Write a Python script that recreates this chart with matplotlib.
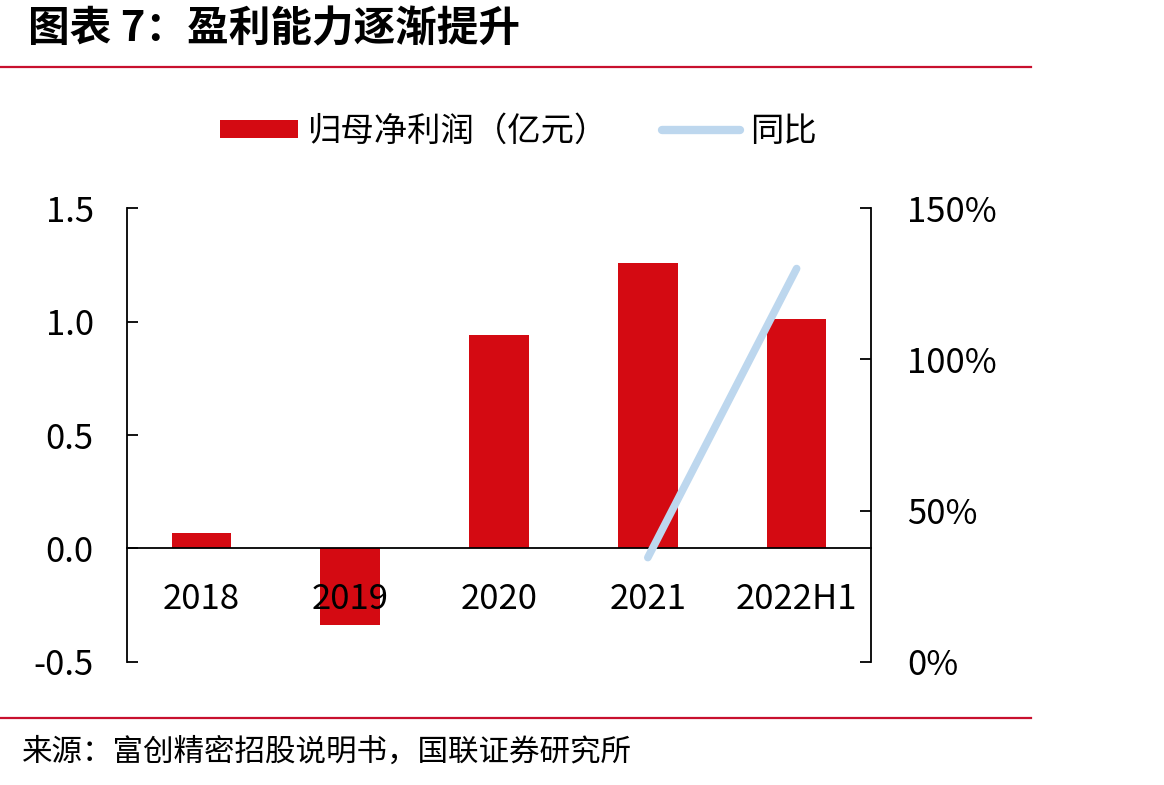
import numpy as np
import matplotlib.pyplot as plt
from matplotlib.patches import Patch
from matplotlib.lines import Line2D
from matplotlib.ticker import FuncFormatter

plt.rcParams['font.family'] = ['Noto Sans CJK SC', 'DejaVu Sans']

# data
years = ['2018', '2019', '2020', '2021', '2022H1']
profit = [0.07, -0.335, 0.94, 1.26, 1.01]          # 归母净利润（亿元）
yoy = [np.nan, np.nan, np.nan, 34.5, 130.0]         # 同比 (%)

bar_color = '#D40A12'
line_color = '#BDD7EE'
rule_color = '#C8102E'

fig = plt.figure(figsize=(11.64, 7.85), dpi=100)
ax = fig.add_axes([0.1091, 0.1567, 0.6392, 0.5783])
x = np.arange(len(years))

ax.bar(x, profit, width=0.4, color=bar_color, zorder=2)
ax.set_axisbelow(False)
ax.set_xlim(-0.5, 4.5)
ax.set_ylim(-0.5, 1.5)
ax.set_yticks([-0.5, 0.0, 0.5, 1.0, 1.5])
ax.yaxis.set_major_formatter(FuncFormatter(lambda v, p: f'{v:.1f}'))
ax.set_xticks(x)
ax.set_xticklabels(years)

ax.spines['top'].set_visible(False)
ax.spines['right'].set_visible(False)
ax.spines['bottom'].set_position(('data', 0))
ax.spines['bottom'].set_zorder(3)
for s in ['left', 'bottom']:
    ax.spines[s].set_linewidth(1.3)
ax.tick_params(axis='x', length=0, pad=24, labelsize=25)
ax.tick_params(axis='y', direction='in', length=8, width=1.3, pad=24, labelsize=25)

ax2 = ax.twinx()
ax2.plot(x, yoy, color=line_color, lw=5.5, solid_capstyle='round', zorder=4)
ax2.set_ylim(0, 150)
ax2.set_yticks([0, 50, 100, 150])
ax2.yaxis.set_major_formatter(FuncFormatter(lambda v, p: f'{v:.0f}%'))
for s in ['top', 'left', 'bottom']:
    ax2.spines[s].set_visible(False)
ax2.spines['right'].set_linewidth(1.3)
ax2.tick_params(axis='y', direction='in', length=8, width=1.3, pad=26, labelsize=25)

handles = [Patch(facecolor=bar_color, edgecolor='none'),
           Line2D([0], [0], color=line_color, lw=6, solid_capstyle='round')]
fig.legend(handles, ['归母净利润（亿元）', '同比'], loc='center',
           bbox_to_anchor=(0.4455, 0.833), ncol=2, frameon=False, fontsize=24,
           handlelength=2.35, handleheight=0.46, handletextpad=0.3,
           columnspacing=1.6)

# header / footer
fig.text(0.024, 0.962, '图表 7：盈利能力逐渐提升', fontsize=30, fontweight='bold',
         style='italic', va='center', ha='left')
fig.add_artist(Line2D([0, 0.886], [1 - 67 / 785] * 2, color=rule_color, lw=1.6))
fig.add_artist(Line2D([0, 0.886], [1 - 718 / 785] * 2, color=rule_color, lw=1.6))
fig.text(0.019, 1 - 752 / 785, '来源：富创精密招股说明书，国联证券研究所', fontsize=22,
         va='center', ha='left')

fig.savefig('out.png', dpi=100)
